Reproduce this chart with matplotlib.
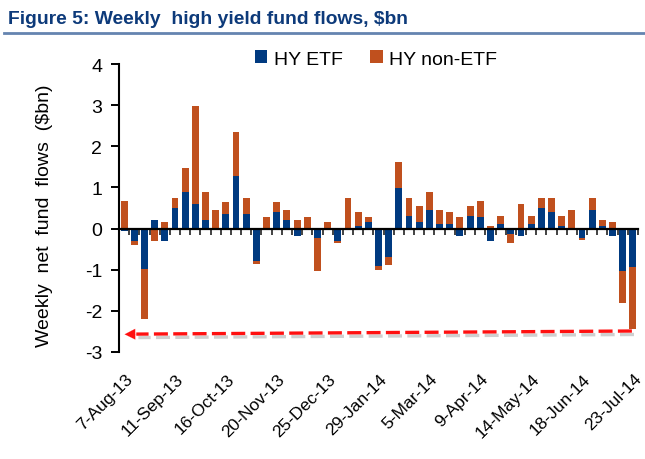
import matplotlib
matplotlib.use("Agg")
import matplotlib.pyplot as plt
import matplotlib.patheffects as pe
from matplotlib import font_manager
from matplotlib.patches import Patch
import numpy as np

# ---------------- data ----------------
dates = ["7-Aug-13", "11-Sep-13", "16-Oct-13", "20-Nov-13", "25-Dec-13", "29-Jan-14",
         "5-Mar-14", "9-Apr-14", "14-May-14", "18-Jun-14", "23-Jul-14"]
hy_etf = [-0.06, -0.31, -0.99, 0.22, -0.31, 0.51, 0.90, 0.60, 0.22, 0.00, 0.36, 1.28, 0.36, -0.80, 0.00, 0.41, 0.22,
          -0.17, 0.00, -0.22, 0.00, -0.31, 0.00, 0.07, 0.17, -0.90, -0.70, 0.99, 0.31, 0.17, 0.46, 0.12, 0.12,
          -0.17, 0.31, 0.27, -0.31, 0.12, -0.12, -0.17, 0.12, 0.51, 0.41, 0.07, 0.00, -0.22, 0.46, 0.07, -0.17,
          -1.04, -0.94]
hy_non_etf = [0.68, -0.10, -1.21, -0.31, 0.17, 0.24, 0.58, 2.37, 0.68, 0.46, 0.29, 1.06, 0.39, -0.05, 0.27, 0.24, 0.24,
              0.22, 0.27, -0.82, 0.17, -0.05, 0.75, 0.34, 0.10, -0.10, -0.19, 0.63, 0.44, 0.39, 0.44, 0.34, 0.29,
              0.27, 0.24, 0.39, 0.07, 0.19, -0.24, 0.60, 0.19, 0.24, 0.34, 0.24, 0.46, -0.05, 0.29, 0.15, 0.17,
              -0.77, -1.50]
label_every = 5
yticks = [-3, -2, -1, 0, 1, 2, 3, 4]

# ---------------- fonts ----------------
names = {f.name for f in font_manager.fontManager.ttflist}
narrow = "Liberation Sans Narrow" if "Liberation Sans Narrow" in names else "Liberation Sans"
plt.rcParams["font.family"] = [narrow, "DejaVu Sans"]

C_ETF = "#003a80"
C_NON = "#c0501e"
TITLE_C = "#0d3a7a"

W, H = 645, 460
fig = plt.figure(figsize=(W / 100, H / 100), dpi=100)
ax = fig.add_axes([119 / W, 1 - 353 / H, (638 - 119) / W, (353 - 65) / H])

n = len(hy_etf)
x = np.arange(n)
etf = np.array(hy_etf)
non = np.array(hy_non_etf)
same = np.sign(etf) == np.sign(non)
bottom_non = np.where(same, etf, 0.0)

bw = 0.68
ax.bar(x, etf, width=bw, color=C_ETF, zorder=2)
ax.bar(x, non, width=bw, bottom=bottom_non, color=C_NON, zorder=2)

ax.set_xlim(-0.5, n - 0.5)
ax.set_ylim(-3, 4)

# spines
for s in ["top", "right"]:
    ax.spines[s].set_visible(False)
ax.spines["left"].set_linewidth(1.5)
ax.spines["bottom"].set_position(("data", 0))
ax.spines["bottom"].set_linewidth(1.6)
ax.spines["bottom"].set_zorder(3)

ax.set_yticks(yticks)
ax.set_yticklabels([str(v) for v in yticks], fontsize=14)
ax.tick_params(axis="y", direction="out", length=6, width=1.4, pad=6)

# x: minor ticks at category boundaries, no major labels on the axis
ax.set_xticks([])
ax.set_xticks(np.arange(-0.5, n, 1.0), minor=True)
ax.tick_params(axis="x", which="minor", direction="out", length=4.5, width=1.2, color="#222222")
ax.tick_params(axis="x", which="major", length=0)

# date labels along the bottom
for i, lab in zip(range(0, n, label_every), dates):
    ax.text(i + 0.05, -0.065, lab, transform=ax.get_xaxis_transform(), rotation=45,
            ha="right", va="top", rotation_mode="anchor", fontsize=12.5, clip_on=False)

# y label
fig.text(45 / W, 1 - 216 / H, "Weekly  net  fund  flows  ($bn)", rotation=90,
         ha="center", va="center", fontsize=14)

# title and rule
fig.text(8 / W, 1 - 19 / H, "Figure 5: Weekly  high yield fund flows, $bn", ha="left", va="center",
         fontsize=13.9, fontweight="bold", color=TITLE_C)
fig.add_artist(plt.Line2D([4 / W, 1.0], [1 - 34 / H, 1 - 34 / H], color="#6584b0", lw=2.0))

# legend
handles = [Patch(facecolor=C_ETF, label="HY ETF"), Patch(facecolor=C_NON, label="HY non-ETF")]
fig.legend(handles=handles, loc="center", bbox_to_anchor=(376 / W, 1 - 60 / H), ncol=2, frameon=False,
           fontsize=14, handlelength=0.65, handleheight=0.65, handletextpad=0.35, columnspacing=1.4,
           borderaxespad=0)

# red dashed arrow
x0, y0 = 49.9, -2.49
x1, y1 = 1.2, -2.565
shadow = [pe.SimpleLineShadow(offset=(1.5, -2.5), shadow_color="#888888", alpha=0.4), pe.Normal()]
ax.plot([x0, x1], [y0, y1], color="#ff1010", lw=2.4, dashes=[4.2, 1.6], solid_capstyle="butt",
        dash_capstyle="butt", zorder=4, clip_on=False, path_effects=shadow)
ax.annotate("", xy=(0.05, -2.57), xytext=(1.3, -2.566),
            arrowprops=dict(arrowstyle="-|>,head_length=0.75,head_width=0.38", color="#ff1010", lw=0.1,
                            shrinkA=0, shrinkB=0),
            zorder=5, annotation_clip=False)

fig.savefig("out.png", dpi=100)
